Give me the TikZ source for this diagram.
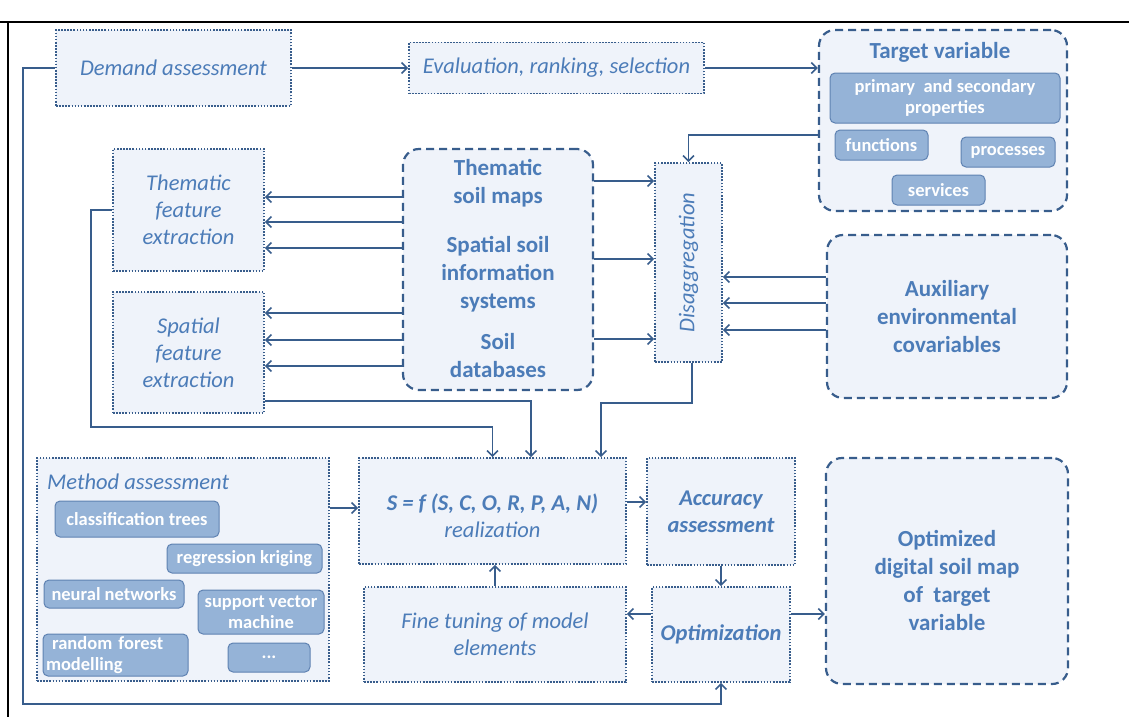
\documentclass[tikz,border=0pt]{standalone}
\usepackage{fontspec}
\setmainfont{Carlito}
\usepackage{tikz}
\usetikzlibrary{arrows.meta,calc,positioning}
\definecolor{soilline}{RGB}{56,93,140}
\definecolor{soiltext}{RGB}{76,124,184}
\definecolor{soilfill}{RGB}{239,243,250}
\definecolor{methodfill}{RGB}{149,179,215}
\definecolor{methodline}{RGB}{95,130,178}

\begin{document}
\begin{tikzpicture}[x=1pt,y=-1pt,line cap=butt,line join=miter,
 >={Straight Barb[length=5.5pt,width=11pt]},
 dotbox/.style={draw=soilline,fill=soilfill,line width=1.6pt,dash pattern=on 1.6pt off 1.5pt,
  text=soiltext,font=\fontsize{22.5}{27}\selectfont\itshape,align=center,inner sep=0pt},
 dashbox/.style={draw=soilline,fill=soilfill,line width=2.2pt,dash pattern=on 8pt off 5pt,
  rounded corners=16pt,text=soiltext,font=\fontsize{23}{28}\selectfont\bfseries,align=center,inner sep=0pt},
 methodbox/.style={draw=methodline,fill=methodfill,line width=1pt,rounded corners=5pt,
  text=white,font=\fontsize{18.5}{21}\selectfont\bfseries,align=center,inner sep=0pt},
 boxtitle/.style={text=soiltext,font=\fontsize{23}{28}\selectfont\bfseries,align=center,inner sep=0pt},
 flow/.style={->,draw=soilline,line width=1.6pt}]
 \useasboundingbox (0,0) rectangle (1129,717);
 \draw[line width=2.5pt] (0,22)--(1129,22);
 \draw[line width=1.5pt] (8,22)--(8,717);

 \node[dotbox,minimum width=235,minimum height=76] (demand) at (173.5,68) {Demand assessment};
 \node[dotbox,minimum width=295,minimum height=51] (evalu) at (556.5,68) {Evaluation, ranking, selection};
 \node[dashbox,minimum width=248,minimum height=181] (target) at (943,120.5) {};
 \node[boxtitle] (targettitle) at (940,52) {Target variable};
 \node[methodbox,minimum width=230,minimum height=50] (primary) at (945,98) {primary \ and secondary\\properties};
 \node[methodbox,minimum width=93,minimum height=30] (functions) at (881.5,145) {functions};
 \node[methodbox,minimum width=94,minimum height=30] (processes) at (1008,152) {processes};
 \node[methodbox,minimum width=93,minimum height=30] (services) at (938.5,190) {services};

 \node[dotbox,minimum width=151,minimum height=122] (thematic) at (188.5,210) {Thematic\\feature\\extraction};
 \node[dotbox,minimum width=151,minimum height=121] (spatial) at (188.5,352.5) {Spatial\\feature\\extraction};
 \node[dashbox,minimum width=190,minimum height=241] (soildata) at (498,269.5) {};
 \node[boxtitle] (soilmaps) at (498,183) {Thematic\\soil maps};
 \node[boxtitle] (soilinfo) at (498,274) {Spatial soil\\information\\systems};
 \node[boxtitle] (soildb) at (498,356) {Soil\\databases};
 \node[dotbox,minimum width=67,minimum height=199] (disagg) at (688.5,262.5) {};
 \node[text=soiltext,font=\fontsize{22.5}{27}\selectfont\itshape,rotate=90] (disaggtext) at (disagg) {Disaggregation};
 \node[dashbox,minimum width=240,minimum height=163] (aux) at (947,316.5) {Auxiliary\\environmental\\covariables};

 \node[dotbox,minimum width=292,minimum height=223] (method) at (183,569.5) {};
 \node[text=soiltext,font=\fontsize{22.5}{27}\selectfont\itshape,anchor=west,inner sep=0pt] (methodtitle) at (47,482) {Method assessment};
 \node[methodbox,minimum width=164,minimum height=36] (classif) at (137,519) {classification trees};
 \node[methodbox,minimum width=155,minimum height=29] (regress) at (244.5,558.5) {regression kriging};
 \node[methodbox,minimum width=140,minimum height=28] (neural) at (114,594) {neural networks};
 \node[methodbox,minimum width=126,minimum height=44] (svm) at (261,612) {support vector\\machine};
 \node[methodbox,minimum width=145,minimum height=42,text width=139,align=left] (rforest) at (115.5,655) {\ random forest\\modelling};
 \node[methodbox,minimum width=82,minimum height=29] (etc) at (269,657.5) {...};

 \node[dotbox,minimum width=267,minimum height=106] (realiz) at (492.5,511) {};
 \node[text=soiltext,font=\fontsize{22.5}{27}\selectfont\itshape,align=center,inner sep=0pt] (realiztext) at (492.5,516) {\textbf{S = f (S, C, O, R, P, A, N)}\\realization};
 \node[dotbox,minimum width=148,minimum height=107,font=\fontsize{22.5}{27}\selectfont\bfseries\itshape] (accur) at (721,511.5) {Accuracy\\assessment};
 \node[dotbox,minimum width=138,minimum height=95,font=\fontsize{22.5}{27}\selectfont\bfseries\itshape] (optim) at (721,634.5) {Optimization};
 \node[dotbox,minimum width=262,minimum height=95] (finetune) at (495,634.5) {Fine tuning of model\\elements};
 \node[dashbox,minimum width=242,minimum height=226] (optmap) at (947,571) {};
 \node[boxtitle] (optmaptext) at (947,580) {Optimized\\digital soil map\\of \ target\\variable};

 \draw[flow] (demand.east)--(evalu.west);
 \draw[flow] (evalu.east)--(evalu.east -| target.west);
 \draw[flow] ([yshift=-14.5pt]target.west) -| (disagg.north);
 \foreach \y in {197,222,248}
  \draw[flow] (soildata.west |- 0,\y)--(thematic.east |- 0,\y);
 \foreach \y in {313,340,366}
  \draw[flow] (soildata.west |- 0,\y)--(spatial.east |- 0,\y);
 \foreach \y in {181,259,339}
  \draw[flow] (soildata.east |- 0,\y)--(disagg.west |- 0,\y);
 \foreach \y in {277,303,330}
  \draw[flow] (aux.west |- 0,\y)--(disagg.east |- 0,\y);
 \draw[flow] (thematic.west) -| (91,427) -| (realiz.north);
 \draw[flow] (spatial.east |- 0,401) -| ([xshift=38.5pt]realiz.north);
 \draw[flow] ([xshift=3.5pt]disagg.south) |- (601,403) -- ([xshift=108.5pt]realiz.north);
 \draw[flow] (method.east |- 0,508)--(realiz.west |- 0,508);
 \draw[flow] (realiz.east |- 0,502)--(accur.west |- 0,502);
 \draw[flow] (accur.south)--(optim.north);
 \draw[flow] (optim.west |- 0,614)--(finetune.east |- 0,614);
 \draw[flow] (finetune.north)--(finetune.north |- realiz.south);
 \draw[flow] (optim.east |- 0,614)--(optmap.west |- 0,614);
 \draw[flow] (demand.west) -| (23,704) -| (optim.south);
\end{tikzpicture}
\end{document}
